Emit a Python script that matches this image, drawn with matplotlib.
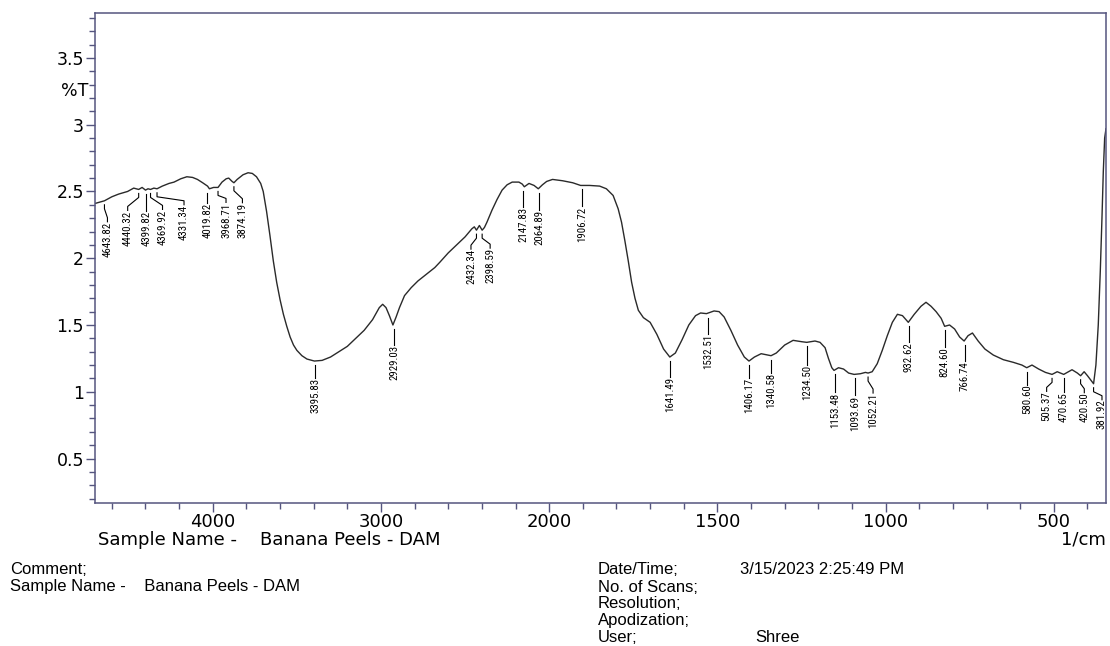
import numpy as np
import matplotlib
matplotlib.use("Agg")
import matplotlib.pyplot as plt
from matplotlib import font_manager
from matplotlib.transforms import IdentityTransform
from matplotlib.ticker import FixedLocator, FixedFormatter, NullFormatter

# --- SPECTRUM: wavenumber (1/cm) and %T ---
wavenumber = [
    4700, 4643.82, 4600, 4560, 4506, 4470, 4440.32, 4420, 4399.82, 4385,
    4369.92, 4350, 4331.34, 4300, 4260, 4230, 4190, 4154, 4120, 4091,
    4060, 4031, 4019.82, 3995, 3968.71, 3945, 3920, 3905, 3885, 3874.19,
    3855, 3820, 3790, 3765, 3740, 3715, 3700, 3680, 3660, 3640,
    3620, 3600, 3580, 3560, 3540, 3520, 3500, 3470, 3440, 3395.83,
    3350, 3300, 3250, 3200, 3150, 3100, 3050, 3010, 2990, 2970,
    2950, 2929.03, 2910, 2890, 2860, 2820, 2780, 2730, 2680, 2650,
    2600, 2550, 2500, 2460, 2445, 2432.34, 2415, 2398.59, 2385, 2370,
    2340, 2310, 2280, 2250, 2220, 2180, 2160, 2147.83, 2120, 2090,
    2064.89, 2040, 2015, 1990, 1960, 1930, 1906.72, 1880, 1850, 1830,
    1810, 1795, 1785, 1775, 1765, 1755, 1745, 1735, 1720, 1700,
    1680, 1660, 1641.49, 1625, 1605, 1585, 1565, 1550, 1532.51, 1510,
    1495, 1480, 1460, 1440, 1420, 1406.17, 1390, 1370, 1340.58, 1325,
    1300, 1275, 1250, 1234.50, 1210, 1195, 1180, 1170, 1160, 1153.48,
    1140, 1125, 1110, 1093.69, 1075, 1060, 1052.21, 1040, 1025, 1010,
    995, 980, 965, 950, 932.62, 915, 895, 880, 865, 850,
    835, 824.60, 810, 795, 780, 766.74, 755, 742, 725, 705,
    680, 650, 620, 595, 580.60, 565, 545, 525, 505.37, 490,
    470.65, 446, 430, 420.50, 410, 400, 381.92, 375, 368, 362,
    357, 353, 349, 345,
]
transmittance = [
    2.41, 2.43, 2.46, 2.48, 2.50, 2.525, 2.515, 2.53, 2.51, 2.52,
    2.515, 2.525, 2.52, 2.54, 2.56, 2.57, 2.595, 2.61, 2.605, 2.59,
    2.565, 2.54, 2.52, 2.53, 2.53, 2.57, 2.595, 2.60, 2.575, 2.565,
    2.59, 2.625, 2.64, 2.635, 2.61, 2.56, 2.50, 2.35, 2.17, 1.98,
    1.82, 1.69, 1.58, 1.49, 1.41, 1.35, 1.31, 1.27, 1.245, 1.23,
    1.235, 1.26, 1.30, 1.34, 1.40, 1.46, 1.54, 1.63, 1.655, 1.63,
    1.57, 1.50, 1.56, 1.63, 1.72, 1.78, 1.83, 1.88, 1.93, 1.97,
    2.04, 2.10, 2.16, 2.22, 2.235, 2.21, 2.245, 2.21, 2.23, 2.27,
    2.36, 2.44, 2.51, 2.55, 2.57, 2.57, 2.555, 2.535, 2.56, 2.545,
    2.52, 2.55, 2.575, 2.59, 2.58, 2.565, 2.545, 2.545, 2.54, 2.52,
    2.47, 2.37, 2.27, 2.13, 1.98, 1.82, 1.70, 1.61, 1.555, 1.52,
    1.43, 1.32, 1.26, 1.29, 1.39, 1.50, 1.57, 1.59, 1.585, 1.605,
    1.60, 1.56, 1.46, 1.35, 1.26, 1.23, 1.26, 1.285, 1.27, 1.29,
    1.35, 1.385, 1.375, 1.37, 1.38, 1.37, 1.33, 1.25, 1.18, 1.16,
    1.18, 1.17, 1.14, 1.13, 1.135, 1.145, 1.14, 1.15, 1.21, 1.31,
    1.42, 1.52, 1.58, 1.57, 1.52, 1.58, 1.64, 1.67, 1.64, 1.60,
    1.55, 1.49, 1.50, 1.47, 1.41, 1.38, 1.42, 1.44, 1.38, 1.32,
    1.275, 1.24, 1.22, 1.20, 1.18, 1.20, 1.17, 1.145, 1.13, 1.15,
    1.13, 1.165, 1.14, 1.12, 1.15, 1.12, 1.06, 1.20, 1.50, 1.90,
    2.30, 2.65, 2.90, 2.97,
]

# --- PEAK PICKS ---
peaks = [
    4643.82, 4440.32, 4399.82, 4369.92, 4331.34, 4019.82, 3968.71, 3874.19,
    3395.83, 2929.03, 2432.34, 2398.59, 2147.83, 2064.89, 1906.72,
    1641.49, 1532.51, 1406.17, 1340.58, 1234.50, 1153.48, 1093.69, 1052.21,
    932.62, 824.60, 766.74, 580.60, 505.37, 470.65, 420.50, 381.92,
]
# label placement in pixels: sideways shift of the text, depth of text top below the curve
label_dx = [3, -11, 1, 12, 27, -2, 8, 8.5,
            1, 1.5, -5.5, 8, -1, 1, 1.3,
            0, 2, 0, 0, 0, 0.7, 0.6, 5,
            0.5, 0, 0.4, 0, -5.4, 0, 3.7, 8.4]
label_depth = [21, 21, 21, 20, 16, 14, 15, 20,
               17, 20, 19, 18, 20, 21, 21,
               20, 20, 17, 17, 23, 22, 21, 20,
               20, 21, 20, 17, 17, 18, 17, 16]

x_major = [4000, 3000, 2000, 1500, 1000, 500]
x_minor = [4600, 4400, 4200, 3800, 3600, 3400, 3200, 2800, 2600, 2400, 2200,
           1900, 1800, 1700, 1600, 1400, 1300, 1200, 1100, 900, 800, 700, 600, 400]
y_major = [0.5, 1, 1.5, 2, 2.5, 3, 3.5]
y_minor = [round(0.2 + 0.1 * i, 1) for i in range(37)]

FRAME = "#55557f"
W, H = 1110, 646

# narrow face for the peak numbers, if one is installed
installed = {f.name for f in font_manager.fontManager.ttflist}
narrow = next((n for n in ["Liberation Sans Narrow", "DejaVu Sans Condensed",
                           "Roboto Condensed", "Open Sans Condensed"]
               if n in installed), None)
if narrow:
    peak_font = dict(family=narrow, fontsize=7.8)
else:
    peak_font = dict(family="Liberation Sans", fontsize=6.6)


# wavenumber axis: scale doubles below 2000 1/cm
def fwd(x):
    x = np.asarray(x, dtype=float)
    return np.where(x >= 2000, x, 2 * x - 2000)


def inv(u):
    u = np.asarray(u, dtype=float)
    return np.where(u >= 2000, u, (u + 2000) / 2)


fig = plt.figure(figsize=(W / 100, H / 100), dpi=100)
ax = fig.add_axes([95 / W, 1 - 503 / H, (1106 - 95) / W, (503 - 12.5) / H])
ax.set_xscale("function", functions=(fwd, inv))
ax.set_xlim(4700, 345)
ax.set_ylim(0.167, 3.84)

ax.plot(wavenumber, transmittance, color="#2a2a2a", lw=1.0)

for s in ax.spines.values():
    s.set_color(FRAME)
    s.set_linewidth(1.1)

ax.xaxis.set_major_locator(FixedLocator(x_major))
ax.xaxis.set_major_formatter(FixedFormatter([str(v) for v in x_major]))
ax.xaxis.set_minor_locator(FixedLocator(x_minor))
ax.xaxis.set_minor_formatter(NullFormatter())
ax.yaxis.set_major_locator(FixedLocator(y_major))
ax.yaxis.set_major_formatter(FixedFormatter([f"{v:g}" for v in y_major]))
ax.yaxis.set_minor_locator(FixedLocator(y_minor))
ax.yaxis.set_minor_formatter(NullFormatter())

ax.tick_params(which="major", direction="out", length=6.5, width=1, color=FRAME,
               labelsize=12.5, labelcolor="black")
ax.tick_params(which="minor", direction="out", length=4, width=1, color=FRAME)
ax.tick_params(axis="x", which="major", pad=1.0, labelsize=13)
ax.tick_params(axis="y", which="major", pad=1.5)
for lab in ax.get_xticklabels() + ax.get_yticklabels():
    lab.set_family("DejaVu Sans")

# peak labels with leader lines, laid out in pixel space
fig.canvas.draw()
to_px = ax.transData.transform
curve_x = np.array(wavenumber)[::-1]
curve_y = np.array(transmittance)[::-1]
gap = 4
for wn, dx, depth in zip(peaks, label_dx, label_depth):
    val = np.interp(wn, curve_x, curve_y)
    px, py = to_px((wn, val))
    top = py - depth
    tx = px + dx
    if abs(dx) < 3:
        xs, ys = [tx, tx], [py - gap, top]
    else:
        xs = [px, px, tx, tx]
        ys = [py - gap, py - gap - 4, top + 4, top]
    fig.add_artist(plt.Line2D(xs, ys, transform=IdentityTransform(),
                              color="black", lw=0.8))
    fig.text(tx, top, f"{wn:.2f}", transform=IdentityTransform(),
             rotation=90, ha="center", va="top", **peak_font)

# axis captions
fig.text(88 / W, 1 - 91 / H, "%T", ha="right", va="center", fontsize=12.5,
         family="DejaVu Sans")
fig.text(98 / W, 1 - 540 / H, "Sample Name -    Banana Peels - DAM", ha="left",
         va="center", fontsize=13, family="DejaVu Sans")
fig.text(1106 / W, 1 - 540 / H, "1/cm", ha="right", va="center", fontsize=13,
         family="DejaVu Sans")

# run information block
info_font = dict(fontsize=12, family="Liberation Sans", va="center", ha="left")
fig.text(10 / W, 1 - 569 / H, "Comment;", **info_font)
fig.text(10 / W, 1 - 586 / H, "Sample Name -    Banana Peels - DAM", **info_font)
fig.text(598 / W, 1 - 569 / H, "Date/Time;", **info_font)
fig.text(740 / W, 1 - 569 / H, "3/15/2023 2:25:49 PM", **info_font)
fig.text(598 / W, 1 - 587 / H, "No. of Scans;", **info_font)
fig.text(598 / W, 1 - 604 / H, "Resolution;", **info_font)
fig.text(598 / W, 1 - 621 / H, "Apodization;", **info_font)
fig.text(598 / W, 1 - 638 / H, "User;", **info_font)
fig.text(755 / W, 1 - 638 / H, "Shree", **info_font)

fig.savefig("out.png", dpi=100, facecolor="white")
